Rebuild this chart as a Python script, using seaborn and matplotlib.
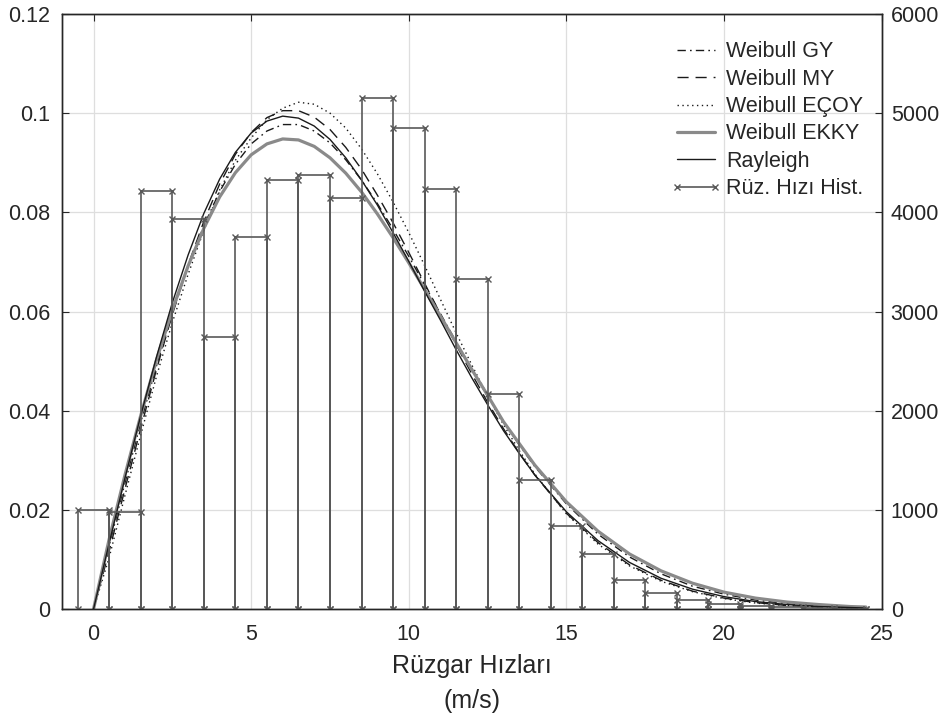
import numpy as np
import pandas as pd
import matplotlib
matplotlib.use("Agg")
import matplotlib.pyplot as plt
import seaborn as sns

# wind speed grid (m/s) for the fitted curves
speed = [0, 0.5, 1, 1.5, 2, 2.5, 3, 3.5, 4, 4.5, 5, 5.5, 6, 6.5, 7, 7.5, 8, 8.5,
         9, 9.5, 10, 10.5, 11, 11.5, 12, 12.5, 13, 13.5, 14,
         15, 16, 17, 18, 19, 20, 21, 22, 23, 24, 24.5]

# density values (left axis)
weibull_gy = [0, .0129, .0255, .0377, .0491, .0597, .0691, .0773, .0842, .0897,
              .0938, .0964, .0977, .0977, .0964, .0940, .0906, .0865, .0818, .0766,
              .0711, .0654, .0596, .0539, .0483, .0429, .0379, .0331, .0287,
              .0212, .0151, .0105, .0071, .0046, .0030, .0018, .0011, .0006, .0004, .0003]
weibull_my = [0, .0118, .0243, .0365, .0484, .0594, .0694, .0782, .0857, .0917,
              .0961, .0991, .1005, .1005, .0992, .0967, .0931, .0887, .0835, .0779,
              .0719, .0657, .0595, .0533, .0474, .0417, .0364, .0315, .0270,
              .0193, .0134, .0089, .0058, .0036, .0022, .0013, .0007, .0004, .0002, .0001]
weibull_ecoy = [0, .0105, .0230, .0352, .0470, .0578, .0675, .0764, .0845, .0905,
                .0950, .0987, .1010, .1022, .1018, .1000, .0970, .0928, .0878, .0821,
                .0759, .0693, .0625, .0557, .0492, .0430, .0372, .0320, .0272,
                .0192, .0131, .0087, .0056, .0035, .0021, .0012, .0007, .0004, .0002, .0001]
weibull_ekky = [0, .0142, .0271, .0391, .0503, .0603, .0692, .0768, .0831, .0880,
                .0916, .0938, .0948, .0946, .0933, .0910, .0879, .0841, .0797, .0749,
                .0698, .0645, .0591, .0537, .0483, .0431, .0378, .0334, .0290,
                .0216, .0157, .0111, .0077, .0052, .0034, .0022, .0014, .0009, .0005, .0004]
rayleigh = [0, .0134, .0265, .0391, .0509, .0618, .0714, .0798, .0867, .0921,
            .0960, .0984, .0994, .0990, .0974, .0947, .0910, .0865, .0815, .0759,
            .0701, .0641, .0583, .0523, .0466, .0412, .0360, .0314, .0270,
            .0196, .0138, .0094, .0062, .0040, .0025, .0015, .0009, .0005, .0003, .0002]

# histogram of measured wind speeds (right axis, counts per 1 m/s bin)
bin_centers = list(range(25))
bin_counts = [1000, 980, 4220, 3935, 2745, 3755, 4330, 4380, 4140, 5155, 4850,
              4240, 3330, 2170, 1305, 840, 550, 290, 160, 95, 55, 35, 20, 10, 5]

labels = ['Weibull GY', 'Weibull MY', 'Weibull EÇOY', 'Weibull EKKY',
          'Rayleigh', 'Rüz. Hızı Hist.']

sns.set_theme(style="white")
plt.rcParams['font.family'] = ['Liberation Sans', 'DejaVu Sans']
plt.rcParams['xtick.direction'] = 'in'
plt.rcParams['ytick.direction'] = 'in'

curves = pd.DataFrame({'speed': speed, 'gy': weibull_gy, 'my': weibull_my,
                       'ecoy': weibull_ecoy, 'ekky': weibull_ekky, 'ray': rayleigh})

# outline of the histogram bars as one path (bottom-left, top-left, top-right, bottom-right)
hx, hy = [], []
for c, n in zip(bin_centers, bin_counts):
    hx += [c - 0.5, c - 0.5, c + 0.5, c + 0.5]
    hy += [0, n, n, 0]
hist = pd.DataFrame({'x': hx, 'y': hy})

fig = plt.figure(figsize=(9.44, 7.17), dpi=100)
ax = fig.add_axes([0.0657, 0.1506, 0.8683, 0.8299])
ax2 = ax.twinx()

black = '#1a1a1a'
hist_col = '#595959'
sns.lineplot(data=curves, x='speed', y='gy', ax=ax, color=black, lw=1.0,
             linestyle=(0, (6, 3, 1.2, 3)), label=labels[0])
sns.lineplot(data=curves, x='speed', y='my', ax=ax, color=black, lw=1.0,
             linestyle=(0, (8, 5)), label=labels[1])
sns.lineplot(data=curves, x='speed', y='ecoy', ax=ax, color=black, lw=1.0,
             linestyle=(0, (1, 2.5)), label=labels[2])
sns.lineplot(data=curves, x='speed', y='ekky', ax=ax, color='#8a8a8a', lw=2.3,
             label=labels[3])
sns.lineplot(data=curves, x='speed', y='ray', ax=ax, color=black, lw=1.0,
             label=labels[4])
sns.lineplot(data=hist, x='x', y='y', ax=ax2, sort=False, estimator=None,
             color=hist_col, lw=1.2, marker='x', markersize=4.5,
             markeredgecolor=hist_col, markeredgewidth=1.0, label=labels[5])

ax.set_xlim(-1, 25)
ax.set_ylim(0, 0.12)
ax2.set_ylim(0, 6000)
ax.set_xticks([0, 5, 10, 15, 20, 25])
ax.set_yticks([0, 0.02, 0.04, 0.06, 0.08, 0.1, 0.12])
ax.set_yticklabels(['0', '0.02', '0.04', '0.06', '0.08', '0.1', '0.12'])
ax2.set_yticks([0, 1000, 2000, 3000, 4000, 5000, 6000])
ax.grid(True, color='#dedede', lw=0.9)
ax.set_axisbelow(True)
ax.tick_params(axis='both', labelsize=15.5, length=5, width=0.8, colors='#262626',
               top=True)
ax.tick_params(axis='x', pad=10.5)
ax.tick_params(axis='y', pad=8.5)
ax2.tick_params(axis='y', labelsize=15.5, length=5, width=0.8, colors='#262626',
                pad=6.5)
for a in (ax, ax2):
    for s in a.spines.values():
        s.set_color('#262626')
        s.set_linewidth(1.0)
ax.set_ylabel('')
ax2.set_ylabel('')
ax.set_xlabel('Rüzgar Hızları\n(m/s)', fontsize=18, color='#262626',
              linespacing=1.55, labelpad=7)

h1, l1 = ax.get_legend_handles_labels()
h2, l2 = ax2.get_legend_handles_labels()
if ax.get_legend():
    ax.get_legend().remove()
if ax2.get_legend():
    ax2.get_legend().remove()
ax2.legend(h1 + h2, l1 + l2, loc='upper left', bbox_to_anchor=(0.742, 0.954),
           frameon=False, fontsize=15.5, handlelength=2.4, handletextpad=0.2,
           labelspacing=0.295, numpoints=2, borderaxespad=0, borderpad=0)

fig.savefig('out.png', dpi=100)
